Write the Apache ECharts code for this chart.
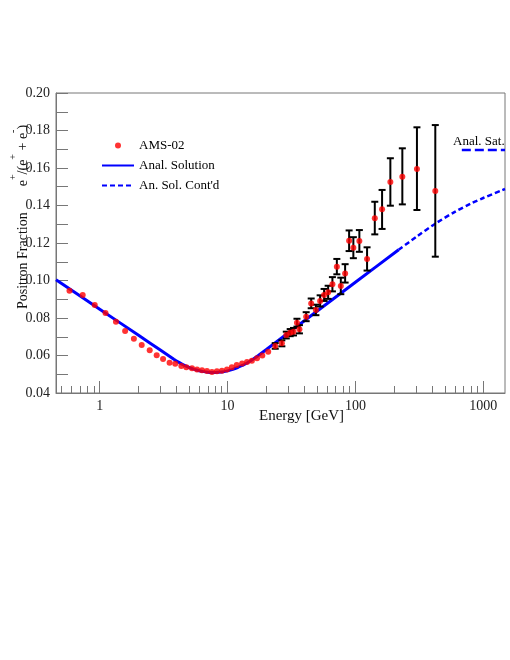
<!DOCTYPE html>
<html><head><meta charset="utf-8">
<script src="https://cdn.jsdelivr.net/npm/echarts@6/dist/echarts.min.js"></script>
<style>html,body{margin:0;padding:0;background:#fff}#c{width:510px;height:660px}</style>
</head><body><div id="c"></div>
<script>
// AMS-02 positron fraction data
const amsEnergy = [0.58,0.736,0.914,1.11,1.34,1.58,1.85,2.13,2.46,2.79,3.13,3.52,3.90,4.35,4.76,5.27,5.77,6.31,6.9,7.55,8.26,9.04,9.9,10.8,11.8,13.0,14.2,15.5,17.0,18.7,20.8,23.6,26.6,28.8,30.9,32.8,34.9,36.5,41.2,45.1,49.1,53.0,56.9,61.2,66.1,71.6,76.9,83.1,89.3,96.4,107.4,123.4,141.8,161.7,187.7,232.9,303,421.7];
const amsFraction = [0.0946,0.0923,0.0869,0.0827,0.0780,0.0731,0.0690,0.0656,0.0628,0.0601,0.0581,0.0562,0.0556,0.0544,0.0537,0.0532,0.0526,0.0521,0.0517,0.0512,0.0516,0.0519,0.0526,0.0537,0.0549,0.0558,0.0565,0.0572,0.0585,0.0600,0.0620,0.0651,0.0665,0.0709,0.0722,0.0727,0.0775,0.0740,0.0807,0.0878,0.0843,0.0891,0.0923,0.0937,0.0980,0.1074,0.0971,0.1038,0.1212,0.1175,0.1211,0.1115,0.1332,0.1380,0.1525,0.1554,0.1595,0.1477];
const errUp   = [0,0,0,0,0,0,0,0,0,0,0,0,0,0,0,0,0,0,0,0,0,0,0,0,0,0,0,0,0,0,0,0.0015,0.0016,0.0018,0.0019,0.0020,0.0021,0.0022,0.0024,0.0026,0.0028,0.0030,0.0032,0.0035,0.0038,0.0041,0.0044,0.0049,0.0055,0.0056,0.0058,0.0062,0.0088,0.0103,0.0127,0.0151,0.0222,0.0352];
const errDown = [0,0,0,0,0,0,0,0,0,0,0,0,0,0,0,0,0,0,0,0,0,0,0,0,0,0,0,0,0,0,0,0.0015,0.0016,0.0018,0.0019,0.0020,0.0021,0.0022,0.0024,0.0026,0.0028,0.0030,0.0032,0.0035,0.0038,0.0041,0.0044,0.0049,0.0055,0.0056,0.0058,0.0062,0.0086,0.0105,0.0126,0.0148,0.0219,0.0350];

// Analytical solution (solid) and its continuation (dashed)
const analEnergy   = [0.455,1,2,3,3.8,4.2,4.6,5,5.5,6,6.5,7,7.5,8,9,10,11,12,13,14,15.5,17.3,20,30,50,100,218];
const analFraction = [0.1004,0.0847,0.0709,0.0628,0.0580,0.0562,0.0547,0.0536,0.0526,0.0519,0.0514,0.0511,0.0510,0.0510,0.0512,0.0518,0.0526,0.0536,0.0547,0.0557,0.0576,0.0599,0.0631,0.0722,0.0836,0.0991,0.1164];
const contEnergy   = [218,300,421.7,600,800,1000,1480];
const contFraction = [0.1164,0.1233,0.1303,0.1366,0.1410,0.1440,0.1488];
// Analytical saturation level
const satEnergy   = [680,1480];
const satFraction = [0.1696,0.1696];

const xMajorTicks = [1,10,100,1000];
const xMinorTicks = [0.5,0.6,0.7,0.8,0.9,2,3,4,5,6,7,8,9,20,30,40,50,60,70,80,90,200,300,400,500,600,700,800,900];

const FONT = 'Liberation Serif';
const AXIS_C = '#777';

const pts = amsEnergy.map((e,i)=>[e, amsFraction[i]]);
const errData = amsEnergy.map((e,i)=>[e, amsFraction[i]-errDown[i], amsFraction[i]+errUp[i]]).filter((d,i)=>errUp[i]>0);
const anal = analEnergy.map((e,i)=>[e, analFraction[i]]);
const cont = contEnergy.map((e,i)=>[e, contFraction[i]]);
const sat = satEnergy.map((e,i)=>[e, satFraction[i]]);

const chart = echarts.init(document.getElementById('c'), null, {renderer:'canvas'});
chart.setOption({
  animation:false,
  backgroundColor:'#fff',
  textStyle:{fontFamily:FONT},
  grid:{left:56, top:93, right:5, bottom:267, show:true, borderColor:AXIS_C, borderWidth:1, backgroundColor:'transparent'},
  legend:{
    left:96, top:134, orient:'vertical', itemWidth:32, itemHeight:6, itemGap:7,
    textStyle:{fontFamily:FONT, fontSize:13, color:'#000'},
    data:[
      {name:'AMS-02'},
      {name:'Anal. Solution', itemStyle:{opacity:0}},
      {name:"An. Sol. Cont'd", itemStyle:{opacity:0}}
    ]
  },
  xAxis:[{
    type:'log', logBase:10, min:0.455, max:1480, gridIndex:0, position:'bottom',
    axisLine:{show:true, onZero:false, lineStyle:{color:AXIS_C}},
    axisTick:{show:true, inside:true, length:12, customValues:xMajorTicks, lineStyle:{color:AXIS_C}},
    axisLabel:{show:true, customValues:xMajorTicks, margin:6, fontSize:14, color:'#222', fontFamily:FONT, formatter:v=>String(Math.round(v))},
    splitLine:{show:false}, minorTick:{show:false}
  },{
    type:'log', logBase:10, min:0.455, max:1480, gridIndex:0, position:'bottom',
    axisLine:{show:false},
    axisTick:{show:true, inside:true, length:7, customValues:xMinorTicks, lineStyle:{color:AXIS_C}},
    axisLabel:{show:false}, splitLine:{show:false}
  }],
  yAxis:{
    type:'value', min:0.04, max:0.20, interval:0.02,
    axisLine:{show:true, onZero:false, lineStyle:{color:AXIS_C}},
    axisTick:{show:true, inside:true, length:12, lineStyle:{color:AXIS_C}},
    minorTick:{show:true, splitNumber:2, length:12, lineStyle:{color:AXIS_C}},
    axisLabel:{margin:6, fontSize:14, color:'#222', fontFamily:FONT, formatter:v=>v.toFixed(2)},
    splitLine:{show:false}
  },
  graphic:[
    {type:'text', left:259, top:409, style:{text:'Energy [GeV]', font:'15px "Liberation Serif"', fill:'#111'}},
    {type:'text', x:19, y:217, rotation:Math.PI/2,
     style:{
       text:'{n|Positron Fraction}{g|}{n|e}{s|+}{n|/(e}{s|+}{n| + e}{s|-}{n|)}',
       align:'center', verticalAlign:'middle',
       rich:{
         n:{fontFamily:FONT, fontSize:14, fill:'#111', lineHeight:22, verticalAlign:'bottom'},
         s:{fontFamily:FONT, fontSize:10, fill:'#111', lineHeight:22, verticalAlign:'top'},
         g:{width:26, lineHeight:22}
       }
     }},
    {type:'text', left:453, top:135, style:{text:'Anal. Sat.', font:'13px "Liberation Serif"', fill:'#000'}}
  ],
  series:[
    {name:'Anal. Solution', type:'line', data:anal, smooth:0.15, showSymbol:false, symbol:'none',
     lineStyle:{color:'#0000ff', width:3}, itemStyle:{color:'#0000ff'}, z:3},
    {name:"An. Sol. Cont'd", type:'line', data:cont, smooth:0.3, showSymbol:false, symbol:'none',
     lineStyle:{color:'#0000ff', width:2.5, type:[5,3]}, itemStyle:{color:'#0000ff'}, z:3},
    {name:'Anal. Sat.', type:'line', data:sat, showSymbol:false, symbol:'none',
     lineStyle:{color:'#0000ff', width:2.5, type:[9,4]}, z:3},
    {name:'err', type:'custom', data:errData, encode:{x:0, y:[1,2]}, z:4,
     renderItem:(params, api)=>{
       const x = api.value(0);
       const p1 = api.coord([x, api.value(1)]);
       const p2 = api.coord([x, api.value(2)]);
       const cw = 3.5;
       const st = {stroke:'#000', lineWidth:2};
       return {type:'group', children:[
         {type:'line', shape:{x1:p1[0], y1:p1[1], x2:p2[0], y2:p2[1]}, style:st},
         {type:'line', shape:{x1:p1[0]-cw, y1:p1[1], x2:p1[0]+cw, y2:p1[1]}, style:st},
         {type:'line', shape:{x1:p2[0]-cw, y1:p2[1], x2:p2[0]+cw, y2:p2[1]}, style:st}
       ]};
     }},
    {name:'AMS-02', type:'scatter', data:pts, symbol:'circle', symbolSize:6,
     itemStyle:{color:'#ff0000'}, z:5}
  ]
});
</script>
</body></html>
